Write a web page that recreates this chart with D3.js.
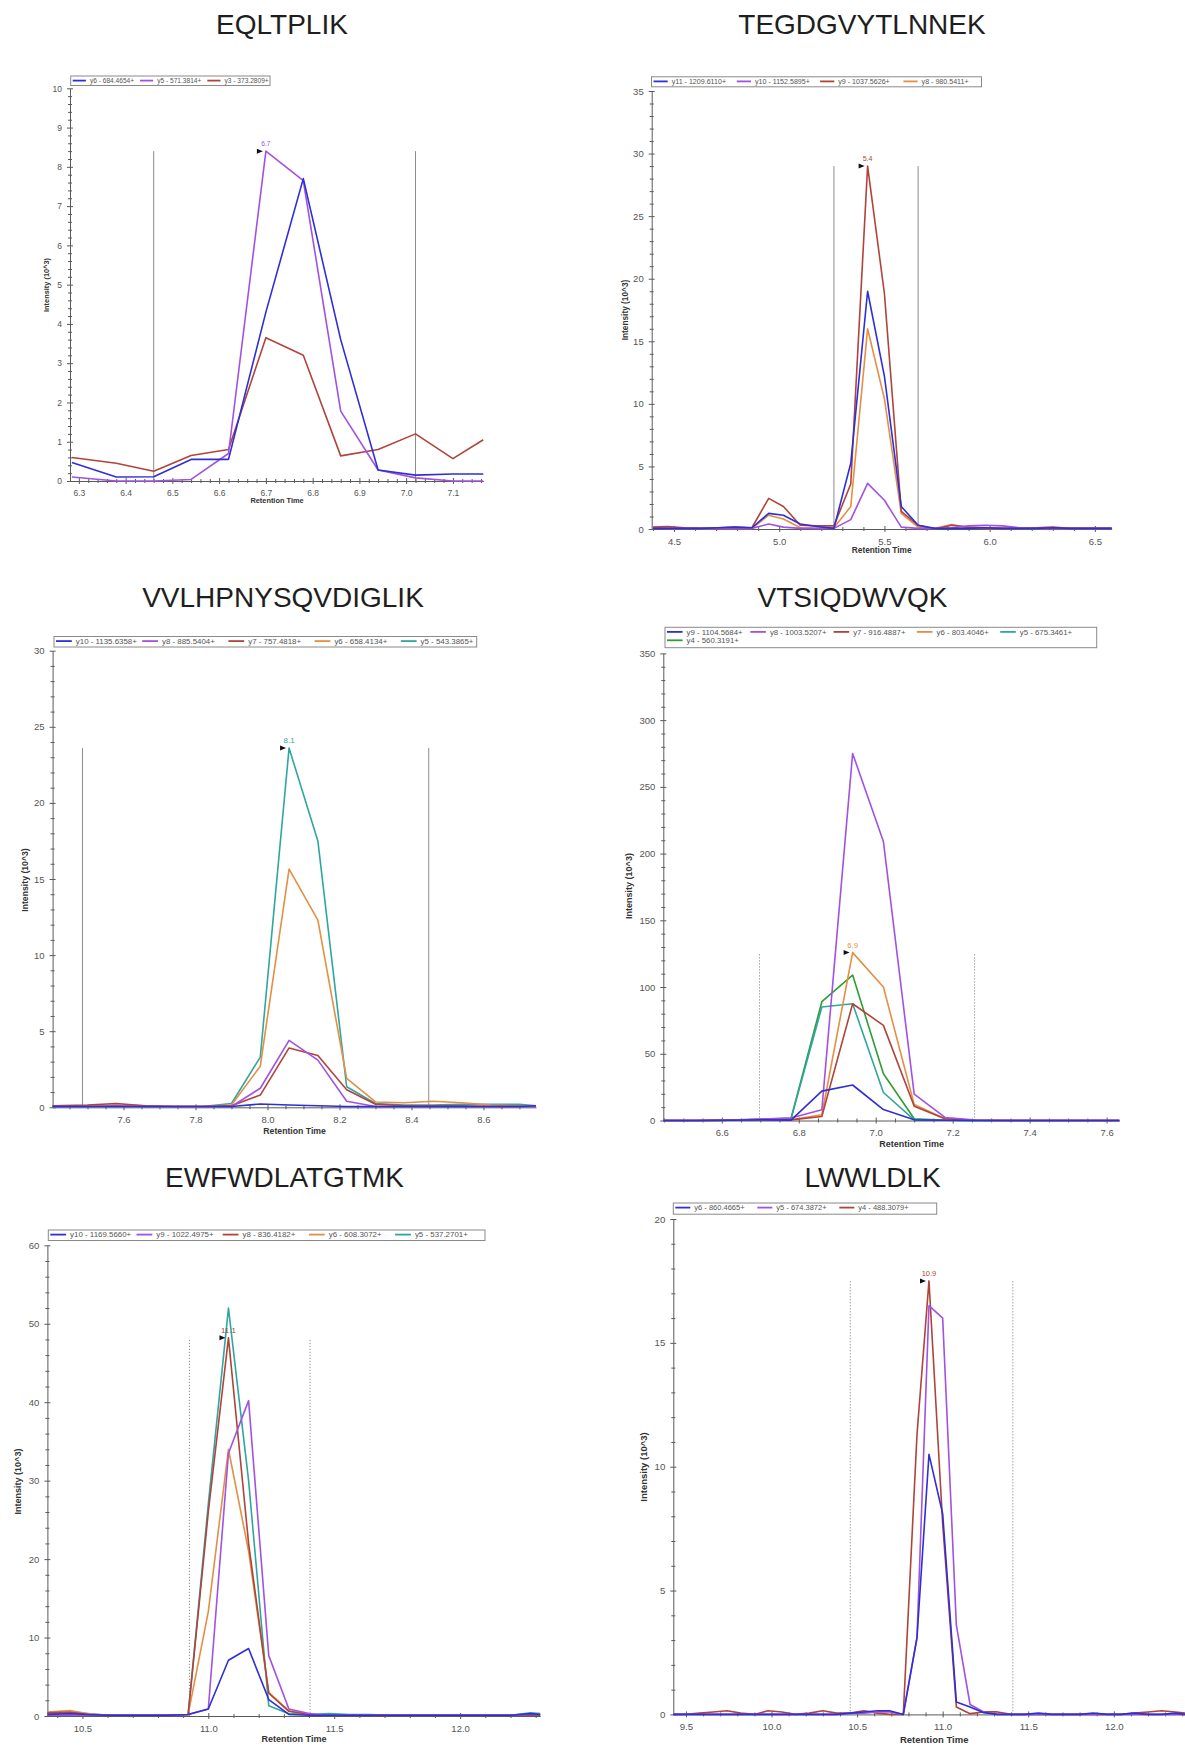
<!DOCTYPE html>
<html>
<head>
<meta charset="utf-8">
<script src="https://cdn.jsdelivr.net/npm/d3@7"></script>
<style>
  body { margin: 0; background: #fff; }
  svg { display: block; font-family: "Liberation Sans", Arial, sans-serif; }
</style>
</head>
<body>
<svg id="chart" width="1185" height="1749"></svg>
<script>
// ---- data (retention time in min, intensity in 10^3) ----

// EQLTPLIK
var p1Time = [6.285, 6.38, 6.46, 6.54, 6.62, 6.70, 6.78, 6.86, 6.94, 7.02, 7.10, 7.165];
var p1Y6 = [0.47, 0.10, 0.11, 0.55, 0.55, 4.3, 7.7, 3.6, 0.28, 0.15, 0.18, 0.18];
var p1Y5 = [0.10, 0.0, 0.0, 0.04, 0.7, 8.4, 7.65, 1.78, 0.28, 0.08, 0.0, 0.0];
var p1Y3 = [0.60, 0.45, 0.25, 0.65, 0.80, 3.65, 3.2, 0.64, 0.80, 1.2, 0.57, 1.05];

// TEGDGVYTLNNEK
var p2Time = [4.40, 4.47, 4.55, 4.63, 4.71, 4.79, 4.87, 4.95, 5.02, 5.10, 5.18, 5.26, 5.34, 5.42, 5.50,
              5.58, 5.66, 5.74, 5.82, 5.90, 5.98, 6.06, 6.14, 6.22, 6.30, 6.38, 6.46, 6.54, 6.58];
var p2Y11 = [0.05, 0.05, 0.05, 0.05, 0.1, 0.15, 0.1, 1.25, 1.1, 0.4, 0.2, 0.05, 5.25, 19.0, 12.2,
             1.8, 0.3, 0.05, 0.05, 0.05, 0.1, 0.05, 0.05, 0.05, 0.1, 0.05, 0.05, 0.05, 0.05];
var p2Y10 = [0.05, 0.05, 0.05, 0.05, 0.05, 0.05, 0.05, 0.4, 0.15, 0.05, 0.05, 0.05, 0.75, 3.65, 2.3,
             0.15, 0.05, 0.05, 0.1, 0.25, 0.3, 0.25, 0.1, 0.05, 0.05, 0.05, 0.05, 0.05, 0.05];
var p2Y9 = [0.15, 0.2, 0.1, 0.05, 0.1, 0.15, 0.1, 2.45, 1.8, 0.3, 0.25, 0.25, 3.6, 29.0, 18.8,
            1.4, 0.3, 0.0, 0.3, 0.15, 0.1, 0.05, 0.05, 0.1, 0.15, 0.05, 0.05, 0.05, 0.05];
var p2Y8 = [0.1, 0.05, 0.05, 0.05, 0.05, 0.05, 0.05, 1.1, 0.8, 0.1, 0.05, 0.1, 1.8, 16.0, 10.4,
            1.25, 0.15, 0.05, 0.35, 0.1, 0.05, 0.05, 0.05, 0.05, 0.05, 0.05, 0.05, 0.05, 0.05];

// VVLHPNYSQVDIGLIK
var p3Time = [7.403, 7.50, 7.58, 7.66, 7.74, 7.82, 7.90, 7.98, 8.06, 8.14, 8.22, 8.30, 8.38, 8.46, 8.54, 8.62, 8.70, 8.746];
var p3Y10 = [0.05, 0.05, 0.05, 0.05, 0.05, 0.05, 0.05, 0.22, 0.15, 0.1, 0.05, 0.05, 0.05, 0.05, 0.05, 0.05, 0.05, 0.1];
var p3Y8 = [0.05, 0.05, 0.1, 0.05, 0.05, 0.05, 0.05, 1.25, 4.4, 3.1, 0.4, 0.05, 0.05, 0.05, 0.05, 0.05, 0.05, 0.05];
var p3Y7 = [0.1, 0.15, 0.25, 0.1, 0.05, 0.05, 0.1, 0.8, 3.9, 3.4, 1.15, 0.2, 0.1, 0.1, 0.1, 0.05, 0.05, 0.05];
var p3Y6 = [0.1, 0.1, 0.15, 0.1, 0.05, 0.05, 0.15, 2.7, 15.65, 12.3, 1.9, 0.35, 0.3, 0.4, 0.3, 0.15, 0.1, 0.05];
var p3Y5 = [0.05, 0.05, 0.1, 0.05, 0.05, 0.05, 0.25, 3.3, 23.6, 17.5, 1.35, 0.25, 0.15, 0.15, 0.2, 0.2, 0.2, 0.1];

// VTSIQDWVQK
var p4Time = [6.448, 6.54, 6.62, 6.70, 6.78, 6.86, 6.94, 7.02, 7.10, 7.18, 7.26, 7.34, 7.42, 7.50, 7.58, 7.633];
var p4Y9 = [0, 0, 0.2, 0.5, 0.3, 22, 26.6, 8.2, 0.5, 0.2, 0, 0, 0, 0, 0, 0];
var p4Y8 = [0, 0, 0.3, 1, 1.8, 8, 275, 209, 19.7, 2.3, 0.3, 0, 0, 0, 0, 0];
var p4Y7 = [0, 0, 0.3, 0.8, 0.5, 3, 87.5, 71.3, 10.7, 1.3, 0.2, 0, 0, 0, 0, 0];
var p4Y6 = [0, 0, 0.3, 0.8, 0.5, 4.3, 125.8, 100, 12, 1.3, 0.2, 0, 0, 0, 0, 0];
var p4Y5 = [0, 0, 0.3, 0.8, 1.3, 85, 87.5, 21, 0.5, 0.2, 0, 0, 0, 0, 0, 0];
var p4Y4 = [0, 0, 0.3, 0.8, 1.8, 89, 109, 35, 1.3, 0.2, 0, 0, 0, 0, 0, 0];

// EWFWDLATGTMK
var p5Time = [10.361, 10.45, 10.52, 10.60, 10.68, 10.76, 10.84, 10.92, 11.00, 11.08, 11.16, 11.24, 11.32,
              11.40, 11.48, 11.56, 11.64, 11.72, 11.80, 11.88, 11.96, 12.04, 12.12, 12.20, 12.28, 12.318];
var p5Y10 = [0.2, 0.3, 0.2, 0.1, 0.1, 0.1, 0.1, 0.2, 0.9, 7.1, 8.6, 2.1, 0.2,
             0.1, 0.1, 0.1, 0.1, 0.1, 0.1, 0.1, 0.1, 0.1, 0.1, 0.1, 0.3, 0.2];
var p5Y9 = [0.1, 0.1, 0.1, 0.1, 0.1, 0.1, 0.1, 0.2, 0.9, 33.5, 40.2, 7.7, 0.9,
            0.3, 0.1, 0.1, 0.1, 0.1, 0.1, 0.1, 0.1, 0.1, 0.1, 0.1, 0.2, 0.2];
var p5Y8 = [0.4, 0.5, 0.2, 0.1, 0.1, 0.1, 0.1, 0.2, 26, 48.2, 22, 2.9, 0.6,
            0.2, 0.1, 0.1, 0.1, 0.1, 0.1, 0.1, 0.1, 0.1, 0.1, 0.1, 0.1, 0.1];
var p5Y6 = [0.5, 0.7, 0.3, 0.1, 0.1, 0.1, 0.1, 0.2, 13.3, 34, 21, 3.0, 0.65,
            0.2, 0.1, 0.1, 0.1, 0.1, 0.1, 0.1, 0.1, 0.1, 0.1, 0.1, 0.1, 0.1];
var p5Y5 = [0.3, 0.4, 0.3, 0.1, 0.1, 0.1, 0.1, 0.2, 27, 52, 30, 1.3, 0.3,
            0.2, 0.3, 0.2, 0.2, 0.1, 0.1, 0.1, 0.1, 0.1, 0.1, 0.1, 0.4, 0.3];

// LWWLDLK
var p6Time = [9.426, 9.50, 9.58, 9.66, 9.74, 9.82, 9.90, 9.98, 10.06, 10.14, 10.22, 10.30, 10.38,
              10.46, 10.54, 10.62, 10.69, 10.77, 10.85, 10.92, 11.00, 11.08, 11.16, 11.24, 11.32,
              11.40, 11.48, 11.56, 11.64, 11.72, 11.80, 11.88, 11.96, 12.04, 12.12, 12.20, 12.28, 12.36, 12.416];
var p6Y6 = [0, 0, 0, 0, 0, 0, 0, 0, 0, 0, 0, 0, 0,
            0.05, 0.1, 0.15, 0.15, 0, 3.1, 10.5, 8.1, 0.5, 0.3, 0.07, 0,
            0, 0, 0.05, 0, 0, 0, 0.05, 0, 0, 0.05, 0, 0, 0.05, 0];
var p6Y5 = [0, 0, 0, 0, 0, 0, 0, 0, 0, 0, 0, 0, 0,
            0.05, 0.05, 0.1, 0.1, 0, 3.1, 16.5, 16.0, 3.6, 0.4, 0.1, 0,
            0, 0, 0, 0, 0, 0, 0, 0, 0, 0, 0, 0, 0, 0];
var p6Y4 = [0, 0, 0.05, 0.1, 0.15, 0.05, 0, 0.15, 0.1, 0, 0.05, 0.15, 0.05,
            0.05, 0.15, 0.05, 0, 0, 11.3, 17.5, 7.7, 0.3, 0.03, 0.1, 0.1,
            0, 0, 0, 0, 0, 0, 0, 0, 0, 0.05, 0.1, 0.15, 0.1, 0.05];

var blue = "#2f2fd6", purple = "#a152e2", red = "#b0443a", orange = "#e38f45", teal = "#2fa6a0", green = "#2f9d34";

// ---- panel settings (layout only) ----
var panels = [
  { title: "EQLTPLIK", tx: 282, ty: 34,
    left: 70, right: 483.3, top: 88.3, bottom: 481, xDomain: [6.281, 7.165], yMax: 10,
    xMajor: 0.1, xMinor: 0.02, yMajor: 1, yMinor: 0.2, tickFont: 8.5, labFont: 7.4,
    xLab: [277, 503], yLab: [46, 285], bounds: [6.46, 7.02], dotted: false,
    legend: { x: 70.7, y: 76, w: 199.3, h: 9.5, step: 67.3, font: 6.6, perRow: 5, rowH: 8 },
    time: p1Time, mark: 1, markTime: 6.70,
    series: [{ name: "y6 - 684.4654+", v: p1Y6, c: blue }, { name: "y5 - 571.3814+", v: p1Y5, c: purple },
             { name: "y3 - 373.2809+", v: p1Y3, c: red }] },
  { title: "TEGDGVYTLNNEK", tx: 862, ty: 34,
    left: 651.7, right: 1111.7, top: 91, bottom: 529, xDomain: [4.394, 6.58], yMax: 35,
    xMajor: 0.5, xMinor: 0.1, yMajor: 5, yMinor: 1, tickFont: 9.5, labFont: 8.3,
    xLab: [881.7, 553], yLab: [625, 310], bounds: [5.26, 5.66], dotted: false,
    legend: { x: 651.5, y: 76.8, w: 330, h: 10, step: 83.3, font: 7.1, perRow: 5, rowH: 8 },
    time: p2Time, mark: 2, markTime: 5.42,
    series: [{ name: "y11 - 1209.6110+", v: p2Y11, c: blue }, { name: "y10 - 1152.5895+", v: p2Y10, c: purple },
             { name: "y9 - 1037.5626+", v: p2Y9, c: red }, { name: "y8 - 980.5411+", v: p2Y8, c: orange }] },
  { title: "VVLHPNYSQVDIGLIK", tx: 283, ty: 607,
    left: 52.6, right: 536, top: 650.7, bottom: 1107.3, xDomain: [7.403, 8.746], yMax: 30,
    xMajor: 0.2, xMinor: 0.05, yMajor: 5, yMinor: 1, tickFont: 9.5, labFont: 8.7,
    xLab: [294.6, 1134], yLab: [25.3, 880], bounds: [7.486, 8.448], dotted: false,
    legend: { x: 54, y: 636.5, w: 422.7, h: 10.5, step: 86.2, font: 7.9, perRow: 5, rowH: 8 },
    time: p3Time, mark: 4, markTime: 8.06,
    series: [{ name: "y10 - 1135.6358+", v: p3Y10, c: blue }, { name: "y8 - 885.5404+", v: p3Y8, c: purple },
             { name: "y7 - 757.4818+", v: p3Y7, c: red }, { name: "y6 - 658.4134+", v: p3Y6, c: orange },
             { name: "y5 - 543.3865+", v: p3Y5, c: teal }] },
  { title: "VTSIQDWVQK", tx: 852.5, ty: 607,
    left: 663.3, right: 1119.3, top: 653.4, bottom: 1120.5, xDomain: [6.448, 7.633], yMax: 350,
    xMajor: 0.2, xMinor: 0.05, yMajor: 50, yMinor: 10, tickFont: 9.5, labFont: 9,
    xLab: [911.7, 1147], yLab: [629, 886], bounds: [6.698, 7.257], dotted: true,
    legend: { x: 665, y: 627.3, w: 431.7, h: 20.4, step: 83.3, font: 7.8, perRow: 5, rowH: 8.4 },
    time: p4Time, mark: 3, markTime: 6.94,
    series: [{ name: "y9 - 1104.5684+", v: p4Y9, c: blue }, { name: "y8 - 1003.5207+", v: p4Y8, c: purple },
             { name: "y7 - 916.4887+", v: p4Y7, c: red }, { name: "y6 - 803.4046+", v: p4Y6, c: orange },
             { name: "y5 - 675.3461+", v: p4Y5, c: teal }, { name: "y4 - 560.3191+", v: p4Y4, c: green }] },
  { title: "EWFWDLATGTMK", tx: 284.5, ty: 1187,
    left: 47.4, right: 540.2, top: 1245.3, bottom: 1716, xDomain: [10.361, 12.318], yMax: 60,
    xMajor: 0.5, xMinor: 0.1, yMajor: 10, yMinor: 2, tickFont: 9.5, labFont: 9,
    xLab: [294, 1742], yLab: [17.5, 1481.5], bounds: [10.925, 11.404], dotted: true,
    legend: { x: 48.3, y: 1230, w: 436.7, h: 10.5, step: 86.2, font: 7.9, perRow: 5, rowH: 8 },
    time: p5Time, mark: 2, markTime: 11.08,
    series: [{ name: "y10 - 1169.5660+", v: p5Y10, c: blue }, { name: "y9 - 1022.4975+", v: p5Y9, c: purple },
             { name: "y8 - 836.4182+", v: p5Y8, c: red }, { name: "y6 - 608.3072+", v: p5Y6, c: orange },
             { name: "y5 - 537.2701+", v: p5Y5, c: teal }] },
  { title: "LWWLDLK", tx: 872.6, ty: 1187,
    left: 673.3, right: 1185, top: 1219, bottom: 1714.4, xDomain: [9.426, 12.416], yMax: 20,
    xMajor: 0.5, xMinor: 0.1, yMajor: 5, yMinor: 1, tickFont: 9.7, labFont: 9.5,
    xLab: [934.2, 1742.7], yLab: [643.4, 1467], bounds: [10.46, 11.41], dotted: true,
    legend: { x: 673.3, y: 1203, w: 263.4, h: 11.2, step: 82, font: 7.5, perRow: 5, rowH: 8 },
    time: p6Time, mark: 2, markTime: 10.92,
    series: [{ name: "y6 - 860.4665+", v: p6Y6, c: blue }, { name: "y5 - 674.3872+", v: p6Y5, c: purple },
             { name: "y4 - 488.3079+", v: p6Y4, c: red }] }
];

var svg = d3.select("#chart");

//tick values on a fixed step inside a range
function stepTicks(lo, hi, step) {
  var out = [];
  for (var k = Math.ceil(lo / step - 1e-6); k * step <= hi + 1e-6; k++) out.push(+(k * step).toFixed(4));
  return out;
}

function drawPanel(p) {
  var x = d3.scaleLinear().domain(p.xDomain).range([p.left, p.right]);
  var y = d3.scaleLinear().domain([0, p.yMax]).range([p.bottom, p.top]);
  var g = svg.append("g");

  // title
  g.append("text")
    .attr("x", p.tx).attr("y", p.ty)
    .attr("text-anchor", "middle")
    .attr("font-size", 28)
    .attr("fill", "#1e1e1e")
    .text(p.title);

  // peak boundaries, as high as the marked trace
  var marked = p.series[p.mark];
  var peak = d3.max(marked.v);
  g.selectAll("line.bound")
    .data(p.bounds)
    .enter()
    .append("line")
    .attr("x1", function(d) { return x(d); })
    .attr("x2", function(d) { return x(d); })
    .attr("y1", y(0))
    .attr("y2", y(peak))
    .attr("stroke", "#8c8c8c")
    .attr("stroke-width", 1)
    .attr("stroke-dasharray", p.dotted ? "1.2,1.8" : null);

  // axes
  var xMaj = stepTicks(p.xDomain[0], p.xDomain[1], p.xMajor);
  var xMin = stepTicks(p.xDomain[0], p.xDomain[1], p.xMinor).filter(function(v) {
    return xMaj.every(function(m) { return Math.abs(m - v) > 1e-6; });
  });
  var yMaj = stepTicks(0, p.yMax, p.yMajor);
  var yMin = stepTicks(0, p.yMax, p.yMinor).filter(function(v) {
    return yMaj.every(function(m) { return Math.abs(m - v) > 1e-6; });
  });

  var yAx = g.append("g")
    .attr("transform", "translate(" + p.left + ",0)")
    .call(d3.axisLeft(y).tickValues(yMaj).tickSizeInner(3).tickSizeOuter(0).tickPadding(5).tickFormat(d3.format("d")));
  yAx.selectAll(".tick line").attr("x1", 3);
  var yAxMin = g.append("g")
    .attr("transform", "translate(" + p.left + ",0)")
    .call(d3.axisLeft(y).tickValues(yMin).tickSize(2).tickFormat(""));
  yAxMin.select(".domain").remove();
  yAxMin.selectAll(".tick line").attr("x1", 2);

  var xAx = g.append("g")
    .attr("transform", "translate(0," + p.bottom + ")")
    .call(d3.axisBottom(x).tickValues(xMaj).tickSizeInner(3).tickSizeOuter(0).tickPadding(6).tickFormat(d3.format(".1f")));
  xAx.selectAll(".tick line").attr("y1", -3);
  var xAxMin = g.append("g")
    .attr("transform", "translate(0," + p.bottom + ")")
    .call(d3.axisBottom(x).tickValues(xMin).tickSize(2).tickFormat(""));
  xAxMin.select(".domain").remove();
  xAxMin.selectAll(".tick line").attr("y1", -2);

  [yAx, yAxMin, xAx, xAxMin].forEach(function(a) {
    a.attr("font-family", null).attr("font-size", p.tickFont);
    a.selectAll("path, line").attr("stroke", "#5a5a5a");
    a.selectAll("text").attr("fill", "#555");
  });

  // axis titles
  g.append("text")
    .attr("x", p.xLab[0]).attr("y", p.xLab[1])
    .attr("text-anchor", "middle")
    .attr("font-weight", "bold")
    .attr("font-size", p.labFont)
    .attr("fill", "#333")
    .text("Retention Time");
  g.append("text")
    .attr("transform", "translate(" + p.yLab[0] + "," + p.yLab[1] + ") rotate(-90)")
    .attr("text-anchor", "middle")
    .attr("dy", "0.35em")
    .attr("font-weight", "bold")
    .attr("font-size", p.labFont)
    .attr("fill", "#333")
    .text("Intensity (10^3)");

  // traces, first legend entry on top
  var line = d3.line()
    .x(function(d, i) { return x(p.time[i]); })
    .y(function(d) { return y(d); });
  g.selectAll("path.trace")
    .data(p.series.slice().reverse())
    .enter()
    .append("path")
    .attr("class", "trace")
    .attr("d", function(s) { return line(s.v); })
    .attr("fill", "none")
    .attr("stroke", function(s) { return s.c; })
    .attr("stroke-width", 1.6)
    .attr("stroke-linejoin", "round");

  // apex marker
  var mi = p.time.indexOf(p.markTime);
  var mx = x(p.markTime), my = y(marked.v[mi]);
  g.append("path")
    .attr("d", "M" + (mx - 9) + "," + (my - 2.5) + "L" + (mx - 3) + "," + my + "L" + (mx - 9) + "," + (my + 2.5) + "Z")
    .attr("fill", "#111");
  g.append("text")
    .attr("x", mx).attr("y", my - 5)
    .attr("text-anchor", "middle")
    .attr("font-size", p.legend.font)
    .attr("fill", marked.c)
    .text(d3.format(".1f")(p.markTime));

  // legend
  var L = p.legend;
  g.append("rect")
    .attr("x", L.x).attr("y", L.y)
    .attr("width", L.w).attr("height", L.h)
    .attr("fill", "#fff")
    .attr("stroke", "#8a8a8a")
    .attr("stroke-width", 1);
  var items = g.selectAll("g.leg")
    .data(p.series)
    .enter()
    .append("g")
    .attr("transform", function(s, i) {
      return "translate(" + (L.x + 2 + (i % L.perRow) * L.step) + "," + (L.y + 4.6 + Math.floor(i / L.perRow) * L.rowH) + ")";
    });
  items.append("line")
    .attr("x1", 0).attr("x2", L.font * 2)
    .attr("stroke", function(s) { return s.c; })
    .attr("stroke-width", 1.8);
  items.append("text")
    .attr("x", L.font * 2 + 4)
    .attr("dy", "0.35em")
    .attr("font-size", L.font)
    .attr("fill", "#555")
    .text(function(s) { return s.name; });
}

panels.forEach(drawPanel);
</script>
</body>
</html>
